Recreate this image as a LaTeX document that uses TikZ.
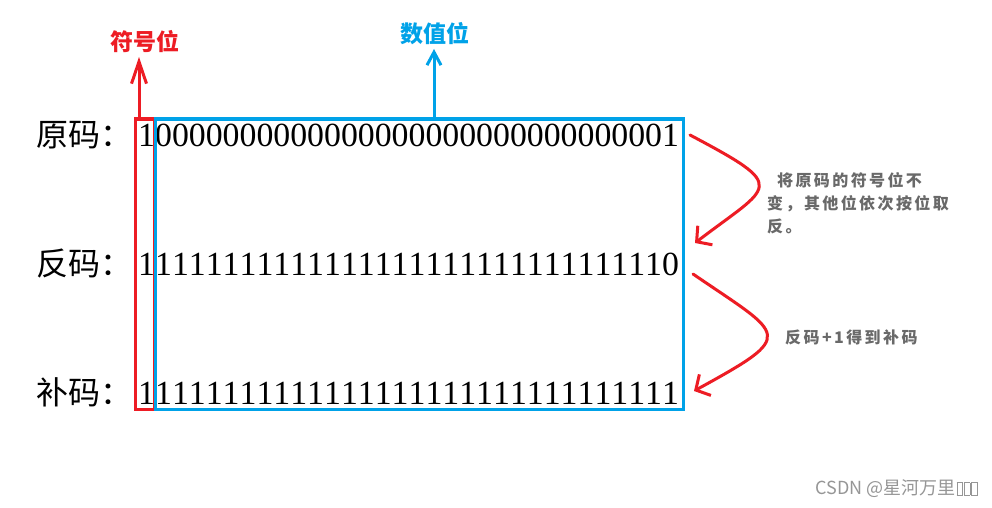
\documentclass[tikz,border=0pt]{standalone}
\usepackage{fontspec}
\usetikzlibrary{arrows.meta}
\setmainfont{Liberation Serif}[Kerning=Off]
\newfontfamily\cjk{Noto Sans CJK SC}
\newfontfamily\cjksp{Noto Sans CJK SC}[LetterSpace=15]
\definecolor{pred}{RGB}{237,28,36}
\definecolor{pblue}{RGB}{0,162,232}
\definecolor{tgray}{RGB}{105,105,105}
\definecolor{wgray}{RGB}{150,150,150}
\newcommand\tofubox{{\fboxsep=0pt\fboxrule=0.7pt\fbox{\rule{0pt}{12pt}\hspace{5pt}}}\hspace{1pt}}
\tikzset{
  bits/.style={inner sep=0pt, anchor=base west, font=\fontsize{33.8}{40}\selectfont},
  rowlbl/.style={inner sep=0pt, anchor=base west, font=\cjk\fontsize{32}{38}\selectfont},
  boxred/.style={draw=pred, line width=3pt, inner sep=0pt, minimum width=19pt, minimum height=290pt},
  boxblue/.style={draw=pblue, line width=3pt, inner sep=0pt, minimum width=527.5pt, minimum height=290pt},
  toplbl/.style={inner sep=0pt, font=\cjk\bfseries\fontsize{23}{27}\selectfont},
  expl/.style={inner sep=0pt, text=tgray, font=\cjksp\bfseries\fontsize{16}{23}\selectfont},
  uparr/.style={line width=3pt},
  curvarr/.style={draw=pred, line width=3pt, line cap=round, -{Straight Barb[length=10.7pt,width=24pt]}}
}
\begin{document}
\begin{tikzpicture}[x=1pt,y=-1pt]
\useasboundingbox (0,0) rectangle (992,508);
\fill[white] (0,0) rectangle (992,508);

% row labels and bits
\node[rowlbl] (l1) at (36,146) {原码：};
\node[rowlbl] (l2) at (36,275) {反码：};
\node[rowlbl] (l3) at (36,404) {补码：};
\node[bits] (b1) at (138,146) {10000000000000000000000000000001};
\node[bits] (b2) at (138,275) {11111111111111111111111111111110};
\node[bits] (b3) at (138,404) {11111111111111111111111111111111};

% boxes
\node[boxred] (sbox) at (144.5,264) {};
\node[boxblue] (vbox) at (419.25,264) {};

% top labels
\node[toplbl, text=pred] (sgn) at (145,42) {符号位};
\node[toplbl, text=pblue] (val) at (435,34) {数值位};
\coordinate (stip) at (139,57);
\coordinate (vtip) at (434,49);
\draw[uparr, pred, -{Straight Barb[length=22pt,width=15pt]}] (139,119) -- (stip);
\draw[uparr, pblue, -{Straight Barb[length=13pt,width=14pt]}] (434,119) -- (vtip);

% curved arrows
\coordinate (c1s) at (690,135);
\coordinate (c1e) at (695,243);
\coordinate (c2s) at (693,274);
\coordinate (c2e) at (694,391);
\draw[curvarr] (c1s) .. controls (790,188) and (772,184) .. (c1e);
\draw[curvarr] (c2s) .. controls (785,337) and (798,334) .. (c2e);

% explanations
\node[expl, anchor=north west, align=left] (e1) at (767,172) {\hspace{10pt}将原码的符号位不\\变，其他位依次按位取\\反。};
\node[expl, anchor=base west] (e2) at (785,343) {反码+1得到补码};

% watermark
\node[inner sep=0pt, anchor=east, text=wgray, font=\cjk\fontsize{18}{20}\selectfont] (wm) at (978,489) {CSDN @星河万里\hspace{1pt}\tofubox\tofubox\tofubox};
\end{tikzpicture}
\end{document}
